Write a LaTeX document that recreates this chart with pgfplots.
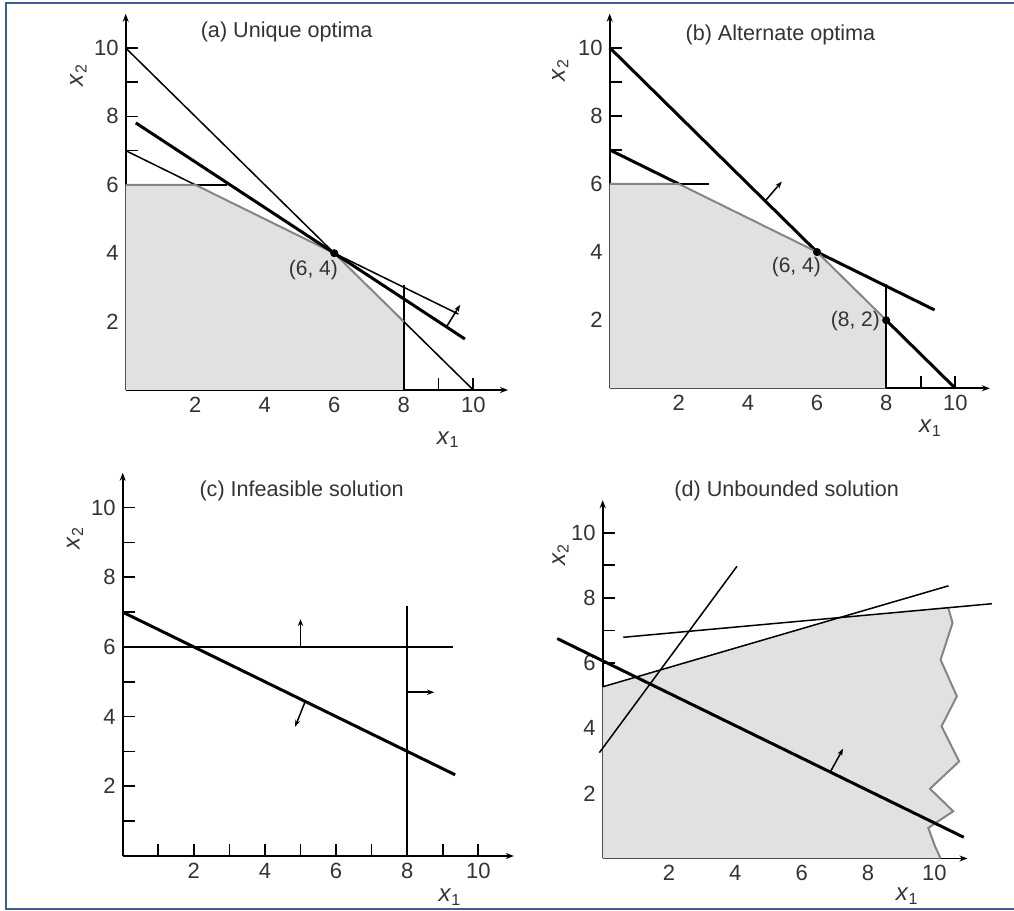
\documentclass[border=0pt]{standalone}
\usepackage{fontspec}
\setmainfont{Liberation Sans}
\usepackage{pgfplots}
\pgfplotsset{compat=1.18}
\usetikzlibrary{arrows.meta}
\definecolor{shade}{HTML}{E1E1E1}
\definecolor{edge}{HTML}{858585}
\definecolor{framec}{HTML}{3B5E98}
\definecolor{txt}{HTML}{333333}
\pgfplotsset{
  lp/.style={
    axis lines=left,
    axis line style={black, line width=0.85pt, -{Stealth[length=4pt,width=3pt]}},
    xmin=0, xmax=11, ymin=0, ymax=11,
    xtick={1,...,10}, ytick={1,...,10},
    xticklabels={,2,,4,,6,,8,,10}, yticklabels={,2,,4,,6,,8,,10},
    tick align=inside, major tick length=6pt,
    tick style={black, line width=0.85pt},
    tick label style={font=\fontsize{11}{13}\selectfont, text=txt},
    clip=false, anchor=south west,
  },
  ln/.style={black, line width=0.75pt, mark=none},
  tk/.style={black, line width=1.5pt, mark=none},
  edgeline/.style={edge, line width=1pt, mark=none},
  arr/.style={black, line width=0.75pt, mark=none, -{Stealth[length=3.5pt,width=2.6pt]}},
  dot/.style={only marks, mark=*, mark size=1.8pt, black},
}
\tikzset{
  ttl/.style={font=\fontsize{10.8}{13}\selectfont, text=txt},
  lbl/.style={font=\fontsize{12}{14}\selectfont, text=txt},
  ptl/.style={font=\fontsize{10.5}{12}\selectfont, text=txt},
}
\begin{document}
\begin{tikzpicture}
\useasboundingbox (0,0) rectangle (507pt,455.5pt);
\draw[framec, line width=1pt] (510pt,1pt) -- (2.85pt,1pt) -- (2.85pt,453.85pt) -- (510pt,453.85pt);

% (a) Unique optima
\begin{axis}[lp, x=17.38pt, y=17.1pt, at={(62.85pt,260.5pt)}]
\addplot[fill=shade, draw=none] coordinates {(0,0) (0,6) (2,6) (6,4) (8,2) (8,0)} -- cycle;
\addplot[ln] coordinates {(0,10) (6,4)};
\addplot[ln] coordinates {(8,2) (10,0)};
\addplot[ln] coordinates {(0,7) (2,6)};
\addplot[ln] coordinates {(6,4) (9.57,2.22)};
\addplot[ln] coordinates {(2,6) (2.9,6)};
\addplot[ln] coordinates {(8,0) (8,3.07)};
\addplot[edgeline] coordinates {(0,6) (2,6) (6,4) (8,2)};
\addplot[tk] coordinates {(0.29,7.81) (9.76,1.49)};
\addplot[arr] coordinates {(9.23,1.85) (9.62,2.49)};
\addplot[dot] coordinates {(6,4)};
\node[ptl] at (axis cs:5.4,3.5) {(6, 4)};
\node[ttl] at (axis cs:4.63,10.48) {(a) Unique optima};
\node[lbl, rotate=90] at (axis cs:-1.36,9.2) {\textit{x}\textsubscript{2}};
\node[lbl] at (axis cs:9.28,-1.45) {\textit{x}\textsubscript{1}};
\end{axis}

% (b) Alternate optima
\begin{axis}[lp, x=17.28pt, y=17.03pt, at={(304.85pt,261.35pt)}]
\addplot[fill=shade, draw=none] coordinates {(0,0) (0,6) (2,6) (6,4) (8,2) (8,0)} -- cycle;
\addplot[ln] coordinates {(2,6) (2.86,6)};
\addplot[ln] coordinates {(8,0) (8,3.07)};
\addplot[tk] coordinates {(0,7) (2,6)};
\addplot[tk] coordinates {(6,4) (9.4,2.3)};
\addplot[tk] coordinates {(0,10) (6,4)};
\addplot[tk] coordinates {(8,2) (10,0)};
\addplot[edgeline] coordinates {(0,6) (2,6) (6,4) (8,2)};
\addplot[arr] coordinates {(4.5,5.5) (4.98,6.07)};
\addplot[dot] coordinates {(6,4) (8,2)};
\node[ptl] at (axis cs:5.4,3.57) {(6, 4)};
\node[ptl] at (axis cs:7.11,1.96) {(8, 2)};
\node[ttl] at (axis cs:4.94,10.37) {(b) Alternate optima};
\node[lbl, rotate=90] at (axis cs:-1.43,9.35) {\textit{x}\textsubscript{2}};
\node[lbl] at (axis cs:9.28,-1.17) {\textit{x}\textsubscript{1}};
\end{axis}

% (c) Infeasible solution
\begin{axis}[lp, x=17.78pt, y=17.42pt, at={(61.35pt,27.5pt)}]
\addplot[ln] coordinates {(0,6) (9.3,6)};
\addplot[arr] coordinates {(5,6) (5,6.8)};
\addplot[tk] coordinates {(0,7) (9.35,2.33)};
\addplot[arr] coordinates {(5.13,4.43) (4.85,3.71)};
\addplot[ln] coordinates {(8,0) (8,7.18)};
\addplot[arr] coordinates {(8,4.7) (8.76,4.7)};
\node[ttl] at (axis cs:5.03,10.48) {(c) Infeasible solution};
\node[lbl, rotate=90] at (axis cs:-1.34,9.12) {\textit{x}\textsubscript{2}};
\node[lbl] at (axis cs:9.2,-1.18) {\textit{x}\textsubscript{1}};
\end{axis}

% (d) Unbounded solution
\begin{axis}[lp, x=16.58pt, y=16.29pt, at={(301.35pt,26.25pt)}]
\addplot[fill=shade, draw=none] coordinates {(0,0) (0,5.27) (7.16,7.40) (10.42,7.70) (10.55,7.23) (10.19,6.10) (10.68,4.98) (10.22,4.06) (10.75,2.98) (9.87,2.14) (10.57,1.45) (9.82,0.94) (10.02,0.38) (10.19,0)} -- cycle;
\addplot[edgeline] coordinates {(10.42,7.70) (10.55,7.23) (10.19,6.10) (10.68,4.98) (10.22,4.06) (10.75,2.98) (9.87,2.14) (10.57,1.45) (9.82,0.94) (10.02,0.38) (10.19,0)};
\addplot[ln] coordinates {(0,5.27) (10.43,8.37)};
\addplot[ln] coordinates {(0.62,6.79) (11.74,7.82)};
\addplot[ln] coordinates {(-0.1,3.25) (4.05,8.97)};
\addplot[tk] coordinates {(-1.37,6.75) (10.89,0.65)};
\addplot[arr] coordinates {(6.86,2.65) (7.25,3.37)};
\node[ttl] at (axis cs:5.55,11.29) {(d) Unbounded solution};
\node[lbl, rotate=90] at (axis cs:-1.27,9.33) {\textit{x}\textsubscript{2}};
\node[lbl] at (axis cs:9.18,-1.15) {\textit{x}\textsubscript{1}};
\end{axis}
\end{tikzpicture}
\end{document}
